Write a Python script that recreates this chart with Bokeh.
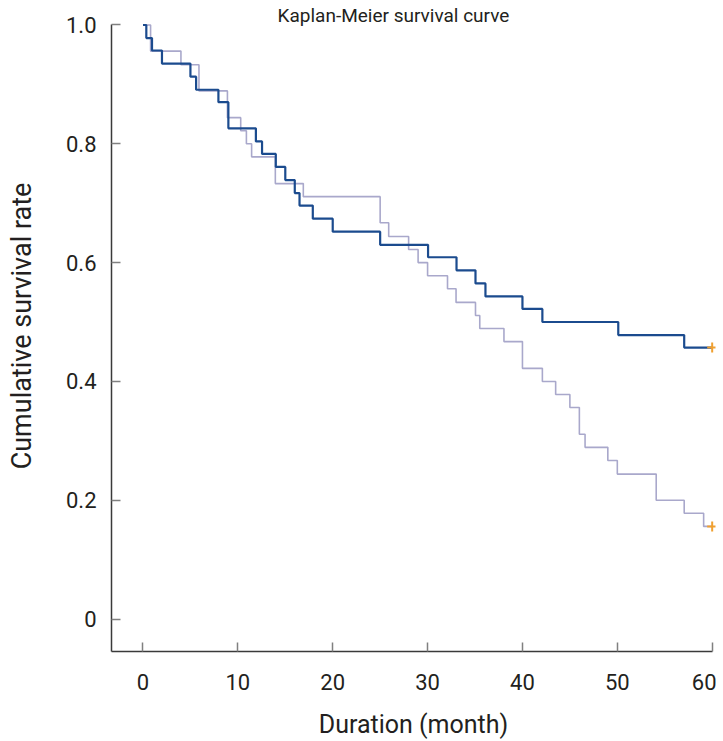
from bokeh.plotting import figure
from bokeh.models import Range1d, FixedTicker, Label
from bokeh.embed import file_html
from bokeh.resources import INLINE

# ---- data ----
title_text = "Kaplan-Meier survival curve"
x_label = "Duration (month)"
y_label = "Cumulative survival rate"

x_ticks = [0, 10, 20, 30, 40, 50, 60]
y_ticks = [0, 0.2, 0.4, 0.6, 0.8, 1.0]
y_tick_labels = ["0", "0.2", "0.4", "0.6", "0.8", "1.0"]

# dark (navy) group: event times (months) and survival after each step
dark_times = [0, 0.35, 0.95, 2.0, 5.0, 5.6, 7.95, 9.0, 11.9, 12.55, 14.0, 15.0, 16.0,
              16.5, 17.9, 20.0, 25.0, 30.05, 33.05, 35.05, 36.1, 40.0, 42.1, 50.1, 57.05, 60]
dark_surv = [1.0, 0.978, 0.957, 0.935, 0.913, 0.891, 0.870, 0.826, 0.804, 0.783, 0.761,
             0.739, 0.717, 0.696, 0.674, 0.652, 0.630, 0.609, 0.587, 0.565, 0.543, 0.522,
             0.500, 0.478, 0.457, 0.457]

# light (lavender) group
light_times = [0, 0.8, 4.0, 5.9, 8.9, 10.3, 10.9, 11.45, 13.95, 16.9, 25.0, 25.9, 28.0,
               29.0, 30.0, 32.1, 33.0, 35.05, 35.5, 38.05, 40.0, 42.1, 43.5, 45.0, 46.0,
               46.6, 49.0, 50.0, 54.1, 57.05, 59.1, 60]
light_surv = [1.0, 0.956, 0.933, 0.889, 0.844, 0.822, 0.800, 0.778, 0.733, 0.711, 0.667,
              0.644, 0.622, 0.600, 0.578, 0.556, 0.533, 0.511, 0.489, 0.467, 0.422, 0.400,
              0.378, 0.356, 0.311, 0.289, 0.267, 0.244, 0.200, 0.178, 0.156, 0.156]

# censored observations (end of follow-up)
censor_x = [60, 60]
censor_y = [0.457, 0.156]

FONT = "Roboto"
TXT = "#231f20"

p = figure(width=716, height=741, output_backend="svg", toolbar_location=None,
           x_range=Range1d(-3.32, 60.35), y_range=Range1d(-0.0546, 1.0412),
           min_border_left=111, min_border_right=1, min_border_top=0,
           min_border_bottom=89)
p.outline_line_color = None
p.xgrid.visible = False
p.ygrid.visible = False
p.background_fill_color = "white"
p.border_fill_color = "white"

p.step(light_times, light_surv, mode="after", line_color="#a9a8cb", line_width=1.6)
p.step(dark_times, dark_surv, mode="after", line_color="#1b4b8e", line_width=2.2)
p.scatter(censor_x, censor_y, marker="cross", size=10, line_color="#f0a030",
          line_width=2)

# axes
xa = p.xaxis[0]
ya = p.yaxis[0]
xa.ticker = FixedTicker(ticks=x_ticks)
ya.ticker = FixedTicker(ticks=y_ticks)
ya.major_label_overrides = {t: l for t, l in zip(y_ticks, y_tick_labels)}
xa.bounds = (-3.4, 60)
ya.bounds = (-0.06, 1.0)
for ax in (xa, ya):
    ax.axis_line_color = "#3a3a3a"
    ax.axis_line_width = 1.5
    ax.major_tick_line_color = "#808080"
    ax.major_tick_line_width = 1.5
    ax.major_tick_in = 9
    ax.major_tick_out = 0
    ax.minor_tick_line_color = None
    ax.major_label_text_font = FONT
    ax.major_label_text_font_size = "22px"
    ax.major_label_text_color = TXT
    ax.axis_label_text_font = FONT
    ax.axis_label_text_font_style = "normal"
    ax.axis_label_text_color = TXT
xa.axis_label = x_label
ya.axis_label = y_label
xa.axis_label_text_font_size = "25px"
ya.axis_label_text_font_size = "27px"
xa.major_label_standoff = 22
ya.major_label_standoff = 15
xa.axis_label_standoff = 17
ya.axis_label_standoff = 25

title = Label(x=26.4, y=1.0165, text=title_text, text_align="center",
              text_baseline="alphabetic", text_font=FONT,
              text_font_size="19px", text_color=TXT)
p.add_layout(title)

open("out.html", "w").write(file_html(p, INLINE))
